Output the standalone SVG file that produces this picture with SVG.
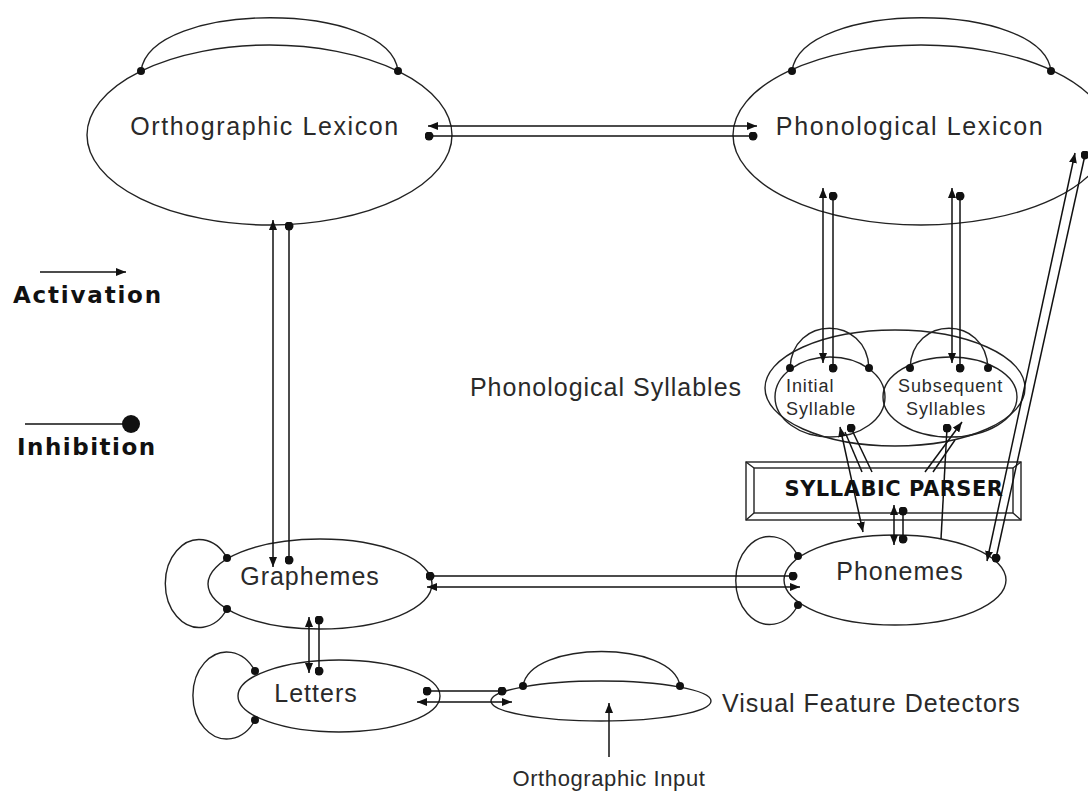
<svg xmlns="http://www.w3.org/2000/svg" width="1088" height="800" viewBox="0 0 1088 800">
<defs>
<marker id="arr" viewBox="0 0 10 8" refX="10" refY="4" markerWidth="10" markerHeight="8" markerUnits="userSpaceOnUse" orient="auto-start-reverse"><path d="M0,0 L10,4 L0,8 z" fill="#111"/></marker>
<marker id="dot" viewBox="0 0 10 10" refX="5" refY="5" markerWidth="9" markerHeight="9" markerUnits="userSpaceOnUse"><circle cx="5" cy="5" r="5" fill="#111"/></marker>
</defs>
<style>
.n{fill:none;stroke:#222;stroke-width:1.4}
.t{font-family:"Liberation Sans",Arial,sans-serif;font-size:25px;fill:#2a2a2a;letter-spacing:1px}
.l{letter-spacing:1.6px}
.s{font-family:"Liberation Sans",Arial,sans-serif;font-size:18px;fill:#2a2a2a;letter-spacing:0.9px}
.b{font-family:"DejaVu Sans",sans-serif;font-weight:bold;fill:#111}
.c{fill:none;stroke:#111;stroke-width:1.5}
.a{marker-start:url(#arr);marker-end:url(#arr)}
.d{marker-start:url(#dot);marker-end:url(#dot)}
.ae{marker-end:url(#arr)}
.de{marker-end:url(#dot)}
.dd{fill:#111}
</style>
<rect width="1088" height="800" fill="#fff"/>

<g id="legend">
<line class="c ae" x1="40" y1="272" x2="126" y2="272"/>
<text class="b" x="13" y="303" font-size="23" letter-spacing="1.8">Activation</text>
<line class="c" x1="25" y1="424" x2="125" y2="424"/>
<circle class="dd" cx="131" cy="424" r="9"/>
<text class="b" x="17" y="455" font-size="23" letter-spacing="1.5">Inhibition</text>
</g>

<g id="orthographic-lexicon">
<ellipse class="n" cx="269.5" cy="135" rx="182.5" ry="90"/>
<path class="n" d="M141,71 C150,0 390,0 398,71"/>
<circle class="dd" cx="141" cy="71" r="4"/>
<circle class="dd" cx="398" cy="71" r="4"/>
<text class="t l" x="265" y="135" text-anchor="middle">Orthographic Lexicon</text>
</g>

<g id="phonological-lexicon">
<ellipse class="n" cx="921" cy="135" rx="188" ry="90"/>
<path class="n" d="M792,71 C801,0 1042,0 1051,71"/>
<circle class="dd" cx="792" cy="71" r="4"/>
<circle class="dd" cx="1051" cy="71" r="4"/>
<text class="t l" x="910" y="135" text-anchor="middle">Phonological Lexicon</text>
</g>

<g id="phonological-syllables">
<ellipse class="n" cx="895" cy="388" rx="130" ry="58"/>
<text class="t" x="606" y="396" text-anchor="middle">Phonological Syllables</text>
</g>

<g id="initial-syllable">
<ellipse class="n" cx="830" cy="397" rx="55" ry="40"/>
<path class="n" d="M790,368 C792,315 867,315 869,368"/>
<circle class="dd" cx="790" cy="368" r="4"/>
<circle class="dd" cx="869" cy="368" r="4"/>
<text class="s" x="786" y="392">Initial</text>
<text class="s" x="786" y="415">Syllable</text>
</g>

<g id="subsequent-syllables">
<ellipse class="n" cx="950" cy="397" rx="67" ry="40"/>
<path class="n" d="M910,368 C912,315 986,315 988,368"/>
<circle class="dd" cx="910" cy="368" r="4"/>
<circle class="dd" cx="988" cy="368" r="4"/>
<text class="s" x="898" y="392">Subsequent</text>
<text class="s" x="906" y="415">Syllables</text>
</g>

<g id="syllabic-parser">
<rect x="746" y="462" width="275" height="58" fill="#fff" stroke="#222" stroke-width="1.4"/>
<rect x="754" y="468" width="259" height="45" fill="none" stroke="#222" stroke-width="1.4"/>
<path class="n" d="M746,462 L754,468 M1021,462 L1013,468 M746,520 L754,513 M1021,520 L1013,513"/>
<text class="b" x="894" y="496" font-size="21" letter-spacing="0.5" text-anchor="middle">SYLLABIC PARSER</text>
</g>

<g id="graphemes">
<ellipse class="n" cx="320" cy="584" rx="112" ry="45"/>
<path class="n" d="M227,558 A34,44 0 1 0 227,609"/>
<circle class="dd" cx="227" cy="558" r="4"/>
<circle class="dd" cx="227" cy="609" r="4"/>
<text class="t" x="310" y="585" text-anchor="middle">Graphemes</text>
</g>

<g id="phonemes">
<ellipse class="n" cx="895" cy="580" rx="111" ry="45"/>
<path class="n" d="M798,556 A34,44 0 1 0 798,605"/>
<circle class="dd" cx="798" cy="556" r="4"/>
<circle class="dd" cx="798" cy="605" r="4"/>
<text class="t" x="900" y="580" text-anchor="middle">Phonemes</text>
</g>

<g id="letters">
<ellipse class="n" cx="339" cy="696" rx="101" ry="36"/>
<path class="n" d="M255,671 A34,43.5 0 1 0 255,720"/>
<circle class="dd" cx="255" cy="671" r="4"/>
<circle class="dd" cx="255" cy="720" r="4"/>
<text class="t" x="316" y="702" text-anchor="middle">Letters</text>
</g>

<g id="visual-feature-detectors">
<ellipse class="n" cx="601" cy="701" rx="110" ry="20"/>
<path class="n" d="M523,686 C530,640 673,640 680,686"/>
<circle class="dd" cx="523" cy="686" r="4"/>
<circle class="dd" cx="680" cy="686" r="4"/>
<text class="t" x="722" y="712">Visual Feature Detectors</text>
</g>

<g id="orthographic-input">
<text class="t" x="609" y="786" style="font-size:22px;letter-spacing:0.6px" text-anchor="middle">Orthographic Input</text>
</g>

<g id="connectors">
<line class="c a" x1="428" y1="126" x2="757" y2="126"/>
<line class="c d" x1="429" y1="136" x2="753" y2="136"/>
<line class="c a" x1="273" y1="220" x2="273" y2="567"/>
<line class="c d" x1="289" y1="226" x2="289" y2="560"/>
<line class="c a" x1="823" y1="188" x2="823" y2="363"/>
<line class="c d" x1="833" y1="196" x2="833" y2="368"/>
<line class="c a" x1="952" y1="188" x2="952" y2="363"/>
<line class="c d" x1="960" y1="196" x2="960" y2="368"/>
<line class="c a" x1="987" y1="561" x2="1075" y2="153"/>
<line class="c d" x1="996" y1="558" x2="1085" y2="155"/>
<line class="c d" x1="430" y1="576" x2="793" y2="576"/>
<line class="c a" x1="427" y1="587" x2="800" y2="587"/>
<line class="c a" x1="309" y1="617" x2="309" y2="673"/>
<line class="c d" x1="319" y1="620" x2="319" y2="671"/>
<line class="c d" x1="427" y1="691" x2="502" y2="691"/>
<line class="c a" x1="417" y1="702" x2="512" y2="702"/>
<line class="c ae" x1="609" y1="757" x2="609" y2="703"/>
<line class="c a" x1="894" y1="505" x2="894" y2="545"/>
<line class="c d" x1="903" y1="511" x2="903" y2="539"/>
<line class="c a" x1="840" y1="427" x2="863" y2="532"/>
<line class="c de" x1="872" y1="472" x2="851" y2="428"/>
<line class="c" x1="862" y1="472" x2="845" y2="432"/>
<line class="c de" x1="941" y1="539" x2="947" y2="428"/>
<line class="c ae" x1="925" y1="472" x2="962" y2="422"/>
<line class="c" x1="933" y1="472" x2="955" y2="440"/>
</g>
</svg>
